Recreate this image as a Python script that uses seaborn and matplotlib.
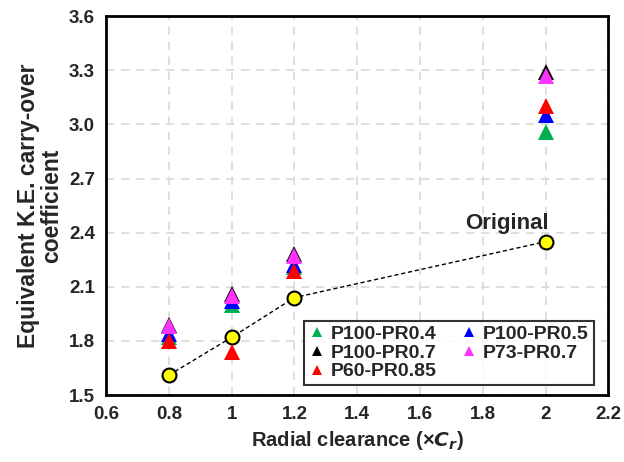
import matplotlib
matplotlib.use("Agg")
import matplotlib.pyplot as plt
import pandas as pd
import seaborn as sns

# datos
clearance = [0.8, 1.0, 1.2, 2.0]
original = [1.61, 1.82, 2.04, 2.35]

series_names = ["P100-PR0.4", "P100-PR0.5", "P100-PR0.7", "P73-PR0.7", "P60-PR0.85"]
series_colors = ["#00b050", "#0000ff", "#000000", "#ff33ff", "#ff0000"]
p100_pr04 = [1.82, 2.00, 2.21, 2.96]
p100_pr05 = [1.84, 2.02, 2.22, 3.05]
p100_pr07 = [1.89, 2.06, 2.28, 3.29]
p73_pr07 = [1.88, 2.05, 2.27, 3.27]
p60_pr085 = [1.80, 1.74, 2.19, 3.10]

x_ticks = [0.6, 0.8, 1.0, 1.2, 1.4, 1.6, 1.8, 2.0, 2.2]
x_labels = ["0.6", "0.8", "1", "1.2", "1.4", "1.6", "1.8", "2", "2.2"]
y_ticks = [1.5, 1.8, 2.1, 2.4, 2.7, 3.0, 3.3, 3.6]

values = [p100_pr04, p100_pr05, p100_pr07, p73_pr07, p60_pr085]
rows = []
for name, vals in zip(series_names, values):
    for x, v in zip(clearance, vals):
        rows.append({"x": x, "y": v, "case": name})
df = pd.DataFrame(rows)
df_orig = pd.DataFrame({"x": clearance, "y": original})

sns.set_style("white")
plt.rcParams["font.family"] = ["Liberation Sans", "DejaVu Sans"]
plt.rcParams["font.weight"] = "bold"

fig, ax = plt.subplots(figsize=(6.24, 4.62), dpi=100)

sns.lineplot(data=df_orig, x="x", y="y", ax=ax, color="black", lw=1,
             linestyle=(0, (3, 2)), marker="o", markersize=10,
             markerfacecolor="#ffff00", markeredgecolor="black",
             markeredgewidth=1.5, zorder=2)

handles = {}
for name, col in zip(series_names, series_colors):
    sub = df[df["case"] == name]
    h, = ax.plot(sub["x"], sub["y"], linestyle="none", marker="^", markersize=11,
                 color=col, markeredgewidth=0, label=name, zorder=3)
    handles[name] = h

ax.text(1.745, 2.42, "Original", fontsize=16, fontweight="bold")

ax.set_xlim(0.6, 2.2)
ax.set_ylim(1.5, 3.6)
ax.set_xticks(x_ticks)
ax.set_xticklabels(x_labels)
ax.set_yticks(y_ticks)
ax.set_yticklabels([f"{v:.1f}" for v in y_ticks])
ax.tick_params(direction="in", length=4, width=1.5, labelsize=13.5, pad=8)
ax.grid(True, color="#d9d9d9", linestyle=(0, (5, 4)), lw=1.2)
for s in ax.spines.values():
    s.set_linewidth(2)
    s.set_color("black")

ax.set_xlabel("Radial clearance (\u00d7$\\mathbfit{C_r}$)", fontsize=14.5, fontweight="bold")
ax.set_ylabel("Equivalent K.E. carry-over\ncoefficient", fontsize=16.5, fontweight="bold",
              linespacing=1.0)

# orden por filas como en la figura original
order = ["P100-PR0.4", "P100-PR0.7", "P60-PR0.85", "P100-PR0.5", "P73-PR0.7"]
leg = ax.legend([handles[n] for n in order], order, ncol=2, loc="lower right",
                fontsize=14, frameon=True, fancybox=False, edgecolor="black",
                markerscale=0.6, handlelength=0.8, handletextpad=0.3,
                columnspacing=1.3, labelspacing=0.05, borderpad=0.25,
                bbox_to_anchor=(0.99, 0.0))
leg.get_frame().set_linewidth(1.5)
for t in leg.get_texts():
    t.set_fontweight("bold")

fig.subplots_adjust(left=0.17, right=0.975, top=0.965, bottom=0.145)
fig.savefig("out.png", dpi=100)
